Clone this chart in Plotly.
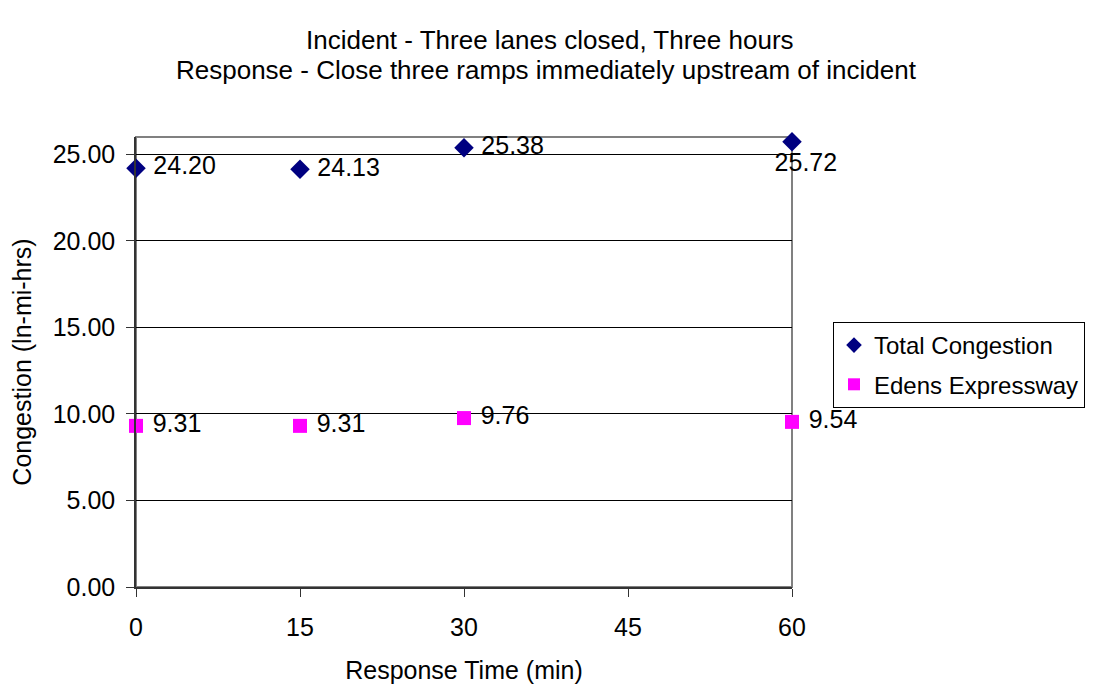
import plotly.graph_objects as go

response_time = [0, 15, 30, 60]
total_congestion = [24.20, 24.13, 25.38, 25.72]
edens_expressway = [9.31, 9.31, 9.76, 9.54]
x_ticks = [0, 15, 30, 45, 60]
y_ticks = [0, 5, 10, 15, 20, 25]
title_lines = ["Incident - Three lanes closed, Three hours",
               "Response - Close three ramps immediately upstream of incident"]

FONT = "Liberation Sans, Arial, sans-serif"
FS = 25
OFF = 8  # default body margin of the html page

# target plot area in screen px
PL, PR, PT, PB = 136, 792, 137, 587
W, H = 1101, 692

fig = go.Figure()
fig.add_trace(go.Scatter(
    x=response_time, y=total_congestion, mode="markers+text",
    name="Total Congestion", legendgroup="a",
    marker=dict(symbol="diamond", size=15, color="#000080"),
    text=[" " + f"{v:.2f}" for v in total_congestion[:-1]] + ["    " + f"{total_congestion[-1]:.2f}"],
    textposition=["middle right", "middle right", "middle right", "bottom center"],
    textfont=dict(size=FS, color="black", family=FONT),
    cliponaxis=False,
))
fig.add_trace(go.Scatter(
    x=response_time, y=edens_expressway, mode="markers+text",
    name="Edens Expressway", legendgroup="b",
    marker=dict(symbol="square", size=14, color="#FF00FF"),
    text=[" " + f"{v:.2f}" for v in edens_expressway],
    textposition="middle right",
    textfont=dict(size=FS, color="black", family=FONT),
    cliponaxis=False,
))

pw, ph = PR - PL, PB - PT
annotations = [
    dict(text=title_lines[0], x=550, y=40),
    dict(text=title_lines[1], x=546, y=70),
]
for a in annotations:
    a.update(xref="paper", yref="paper", showarrow=False,
             font=dict(size=26, family=FONT, color="black"),
             xanchor="center", yanchor="middle")
    a["x"] = (a["x"] - PL) / pw
    a["y"] = (PB - a["y"]) / ph

fig.update_layout(
    width=W, height=H,
    margin=dict(l=PL - OFF, r=W - PR + OFF, t=PT - OFF, b=H - PB + OFF, autoexpand=False),
    paper_bgcolor="white", plot_bgcolor="white",
    font=dict(family=FONT, size=FS, color="black"),
    annotations=annotations,
    showlegend=True,
    legend=dict(
        x=(833 - PL) / pw, y=(PB - 322) / ph, xanchor="left", yanchor="top",
        bordercolor="black", borderwidth=1, bgcolor="white",
        font=dict(size=24, family=FONT, color="black"),
        itemsizing="constant", itemwidth=30, tracegroupgap=5,
    ),
    shapes=[dict(type="rect", xref="paper", yref="paper", x0=0, y0=0, x1=1, y1=1,
                 line=dict(color="#808080", width=2), layer="below")],
)
fig.update_xaxes(
    range=[0, 60], tickvals=x_ticks, ticktext=[str(t) for t in x_ticks],
    showgrid=False, zeroline=False, automargin=False,
    showline=True, linecolor="#333333", linewidth=1.5,
    ticks="outside", ticklen=8, tickcolor="#333333",
    tickfont=dict(size=FS), ticklabelstandoff=9,
    title=dict(text="Response Time (min)", font=dict(size=FS), standoff=22),
)
fig.update_yaxes(
    range=[0, 26], tickvals=y_ticks, tickformat=".2f",
    showgrid=True, gridcolor="black", gridwidth=1, zeroline=False, automargin=False,
    showline=True, linecolor="#333333", linewidth=1.5,
    ticks="outside", ticklen=8, tickcolor="#333333",
    tickfont=dict(size=FS), ticklabelstandoff=6,
    title=dict(text="Congestion (ln-mi-hrs)", font=dict(size=FS), standoff=15),
)
fig.write_html("out.html")
